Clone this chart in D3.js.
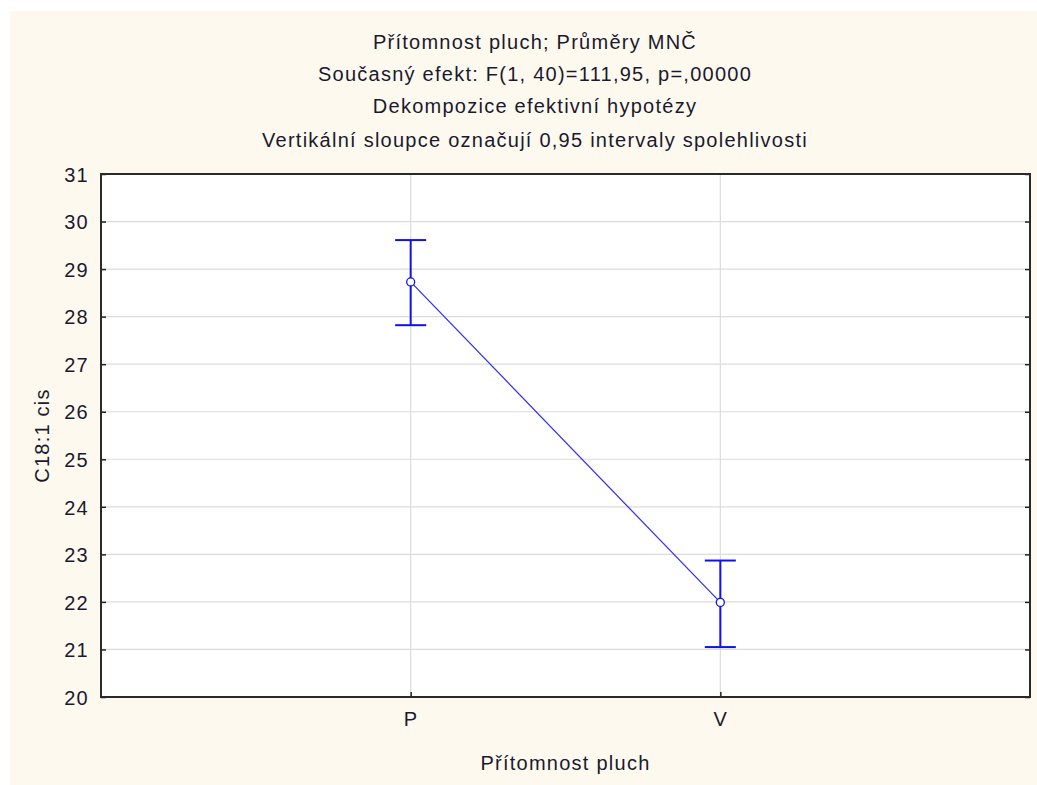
<!DOCTYPE html>
<html>
<head>
<meta charset="utf-8">
<script src="https://cdn.jsdelivr.net/npm/d3@7"></script>
<style>
  html, body { margin: 0; padding: 0; background: #ffffff; }
  svg { display: block; }
  text { font-family: "Liberation Sans", Arial, sans-serif; fill: #1a1a2e; letter-spacing: 1.25px; }
</style>
</head>
<body>
<svg id="chart" width="1037" height="785"></svg>
<script>
// Group levels and LSM estimates with 95% confidence limits
const categories = ["P", "V"];
const means = [28.73, 21.99];
const lower = [27.82, 21.05];
const upper = [29.61, 22.87];
const yTicks = [20, 21, 22, 23, 24, 25, 26, 27, 28, 29, 30, 31];
const titleLines = [
  "Přítomnost pluch; Průměry MNČ",
  "Současný efekt: F(1, 40)=111,95, p=,00000",
  "Dekompozice efektivní hypotézy",
  "Vertikální sloupce označují 0,95 intervaly spolehlivosti"
];
const xTitle = "Přítomnost pluch";
const yTitle = "C18:1 cis";

const svg = d3.select("#chart");
const W = 1037, H = 785;
const FS = "20px";
const margin = { left: 101, right: 7, top: 174, bottom: 88 };
const plotW = W - margin.left - margin.right;
const plotH = H - margin.top - margin.bottom;

// Window background
svg.append("rect").attr("x", 10).attr("y", 11).attr("width", W - 10).attr("height", H - 11)
  .attr("fill", "#fef9ef");

const x = d3.scalePoint().domain(categories).range([0, plotW]).padding(1);
const y = d3.scaleLinear().domain([20, 31]).range([plotH, 0]);

const g = svg.append("g").attr("transform", `translate(${margin.left},${margin.top})`);

g.append("rect").attr("width", plotW).attr("height", plotH).attr("fill", "#ffffff");

// Grid lines
g.append("g").selectAll("line").data(yTicks.slice(1, -1)).join("line")
  .attr("x1", 0).attr("x2", plotW)
  .attr("y1", d => y(d)).attr("y2", d => y(d))
  .attr("stroke", "#dcdcdc").attr("stroke-width", 1.2);
g.append("g").selectAll("line").data(categories).join("line")
  .attr("x1", d => x(d)).attr("x2", d => x(d))
  .attr("y1", 0).attr("y2", plotH)
  .attr("stroke", "#dcdcdc").attr("stroke-width", 1.2);

// Axes (ticks point inward)
const yAxis = d3.axisLeft(y).tickValues(yTicks).tickSize(-5).tickPadding(12);
const yAxisG = g.append("g").call(yAxis);
yAxisG.select(".domain").remove();
yAxisG.selectAll("line").attr("stroke", "#222").attr("stroke-width", 1.5);
yAxisG.selectAll("text").style("font-size", FS).attr("dy", "0.36em").attr("fill", "#1a1a2e");

const yAxisR = d3.axisRight(y).tickValues(yTicks).tickSize(-5).tickFormat("");
const yAxisRG = g.append("g").attr("transform", `translate(${plotW},0)`).call(yAxisR);
yAxisRG.select(".domain").remove();
yAxisRG.selectAll("line").attr("stroke", "#222").attr("stroke-width", 1.5);

const xAxis = d3.axisBottom(x).tickSize(-5).tickPadding(15);
const xAxisG = g.append("g").attr("transform", `translate(0,${plotH})`).call(xAxis);
xAxisG.select(".domain").remove();
xAxisG.selectAll("line").attr("stroke", "#222").attr("stroke-width", 1.5);
xAxisG.selectAll("text").style("font-size", FS).attr("fill", "#1a1a2e");

// Plot frame
g.append("rect").attr("width", plotW).attr("height", plotH)
  .attr("fill", "none").attr("stroke", "#2a2a2a").attr("stroke-width", 2);

// Connecting line between means
const pts = categories.map((c, i) => [x(c), y(means[i])]);
g.append("path").attr("d", d3.line()(pts))
  .attr("fill", "none").attr("stroke", "#2a2aff").attr("stroke-width", 1.2);

// Confidence interval whiskers
const capHalf = 15.5;
const bars = g.append("g").attr("stroke", "#1010f0").attr("stroke-width", 2);
categories.forEach((c, i) => {
  const cx = x(c);
  bars.append("line").attr("x1", cx).attr("x2", cx).attr("y1", y(lower[i])).attr("y2", y(upper[i]));
  bars.append("line").attr("x1", cx - capHalf).attr("x2", cx + capHalf).attr("y1", y(upper[i])).attr("y2", y(upper[i]));
  bars.append("line").attr("x1", cx - capHalf).attr("x2", cx + capHalf).attr("y1", y(lower[i])).attr("y2", y(lower[i]));
});

// Mean markers
g.append("g").selectAll("circle").data(categories).join("circle")
  .attr("cx", d => x(d)).attr("cy", (d, i) => y(means[i])).attr("r", 4)
  .attr("fill", "#ffffff").attr("stroke", "#1010f0").attr("stroke-width", 1.3);

// Titles
const titleY = [42, 74, 106, 140];
svg.append("g").selectAll("text").data(titleLines).join("text")
  .attr("x", 535).attr("y", (d, i) => titleY[i]).attr("dy", "0.36em")
  .attr("text-anchor", "middle").style("font-size", FS).text(d => d);

svg.append("text").attr("x", margin.left + plotW / 2).attr("y", 763).attr("dy", "0.36em")
  .attr("text-anchor", "middle").style("font-size", FS).text(xTitle);

svg.append("text").attr("transform", `translate(42,${margin.top + plotH / 2}) rotate(-90)`)
  .attr("dy", "0.36em").attr("text-anchor", "middle").style("font-size", FS).text(yTitle);
</script>
</body>
</html>
